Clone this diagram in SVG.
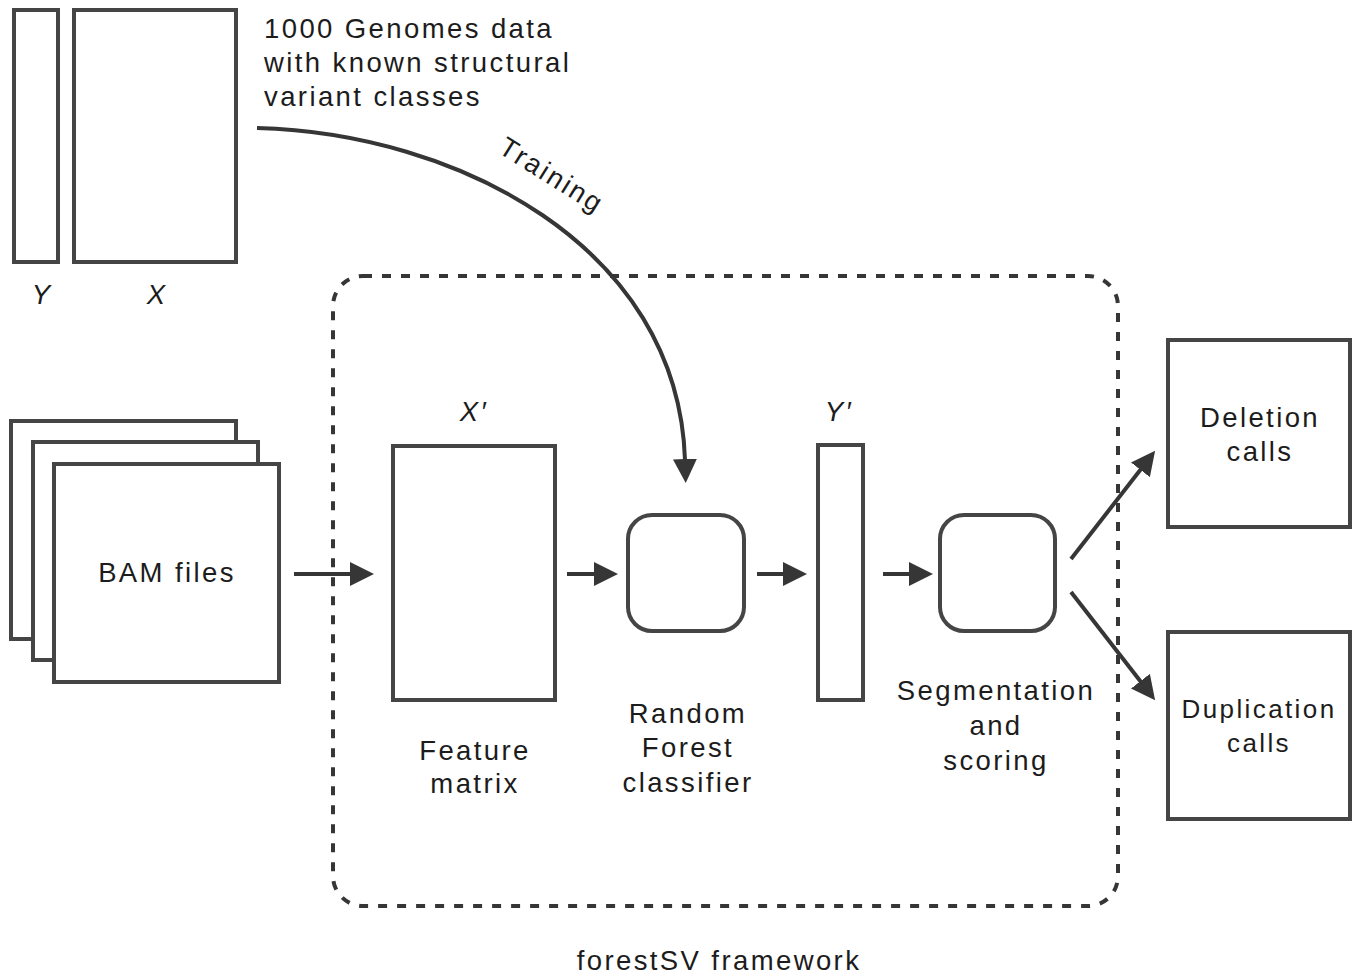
<svg xmlns="http://www.w3.org/2000/svg" width="1360" height="979" viewBox="0 0 1360 979">
<style>
.box{fill:#fff;stroke:#454545;stroke-width:4}
.conn{fill:none;stroke:#363636;stroke-width:4}
.t{font-family:"Liberation Sans",Arial,sans-serif;font-size:27.5px;fill:#1c1c1c;letter-spacing:2.4px}
.m{text-anchor:middle}
.it{font-style:italic}
</style>
<defs>
<marker id="ah" viewBox="0 0 24 24" refX="1" refY="12" markerWidth="24" markerHeight="24" markerUnits="userSpaceOnUse" orient="auto">
<path d="M0,0 L24,12 L0,24 z" fill="#363636"/>
</marker>
</defs>
<rect width="1360" height="979" fill="#fff"/>

<g id="training-data">
<rect class="box" x="14" y="10" width="44" height="252"/>
<rect class="box" x="74" y="10" width="162" height="252"/>
<text class="t it m" x="42" y="304">Y</text>
<text class="t it m" x="157" y="304">X</text>
<text class="t" x="264" y="38">1000 Genomes data</text>
<text class="t" x="264" y="72">with known structural</text>
<text class="t" x="264" y="106">variant classes</text>
</g>

<g id="framework">
<rect x="333" y="276" width="785" height="630" rx="30" fill="none" stroke="#363636" stroke-width="4" stroke-dasharray="9 10"/>
<text class="t m" x="719" y="970">forestSV framework</text>
</g>

<g id="bam-files">
<rect class="box" x="11" y="421" width="225" height="218"/>
<rect class="box" x="33" y="442" width="225" height="218"/>
<rect class="box" x="54" y="464" width="225" height="218"/>
<text class="t m" x="167" y="582">BAM files</text>
</g>

<g id="feature-matrix">
<rect class="box" x="393" y="446" width="162" height="254"/>
<text class="t it m" x="474" y="421">X′</text>
<text class="t m" x="475" y="760">Feature</text>
<text class="t m" x="475" y="793">matrix</text>
</g>

<g id="random-forest">
<rect class="box" x="628" y="515" width="116" height="116" rx="24"/>
<text class="t m" x="688" y="723">Random</text>
<text class="t m" x="688" y="757">Forest</text>
<text class="t m" x="688" y="792">classifier</text>
</g>

<g id="y-prime">
<rect class="box" x="818" y="445" width="45" height="255"/>
<text class="t it m" x="839" y="421">Y′</text>
</g>

<g id="segmentation">
<rect class="box" x="940" y="515" width="115" height="116" rx="24"/>
<text class="t m" x="996" y="700">Segmentation</text>
<text class="t m" x="996" y="735">and</text>
<text class="t m" x="996" y="770">scoring</text>
</g>

<g id="deletion-calls">
<rect class="box" x="1168" y="340" width="182" height="187"/>
<text class="t m" x="1260" y="427">Deletion</text>
<text class="t m" x="1260" y="461">calls</text>
</g>

<g id="duplication-calls">
<rect class="box" x="1168" y="632" width="182" height="187"/>
<text class="t m" x="1259" y="718" style="font-size:26px">Duplication</text>
<text class="t m" x="1259" y="752" style="font-size:26px">calls</text>
</g>

<g id="connectors">
<path class="conn" d="M257,128 C455,133 678,245 685,460" marker-end="url(#ah)"/>
<text class="t" transform="translate(497,152) rotate(32)">Training</text>
<line class="conn" x1="294" y1="574" x2="351" y2="574" marker-end="url(#ah)"/>
<line class="conn" x1="567" y1="574" x2="595" y2="574" marker-end="url(#ah)"/>
<line class="conn" x1="757" y1="574" x2="784" y2="574" marker-end="url(#ah)"/>
<line class="conn" x1="883" y1="574" x2="910" y2="574" marker-end="url(#ah)"/>
<line class="conn" x1="1071" y1="559" x2="1141" y2="469" marker-end="url(#ah)"/>
<line class="conn" x1="1071" y1="592" x2="1141" y2="682" marker-end="url(#ah)"/>
</g>
</svg>
